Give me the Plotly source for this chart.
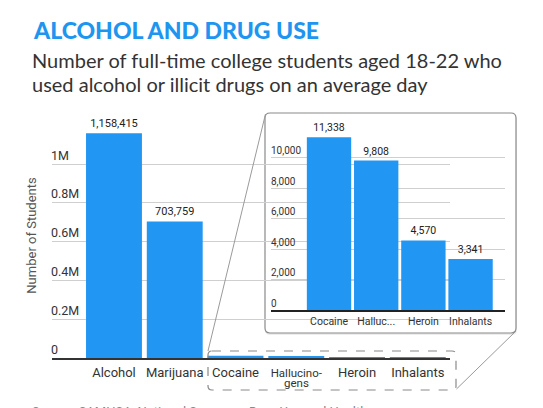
import plotly.graph_objects as go

# ── Data ──────────────────────────────────────────────────────────────────────
categories = ["Alcohol", "Marijuana", "Cocaine", "Hallucinogens", "Heroin", "Inhalants"]
students = [1158415, 703759, 11338, 9808, 4570, 3341]
main_tick_text = ["Alcohol", "Marijuana", "Cocaine",
                  "<span style='font-size:11.5px'>Hallucino-</span>", "Heroin", "Inhalants"]
main_y_ticks = [0, 200000, 400000, 600000, 800000, 1000000]
main_y_labels = ["0", "0.2M", "0.4M", "0.6M", "0.8M", "1M"]

inset_categories = categories[2:]
inset_students = students[2:]
inset_tick_text = ["Cocaine", "Halluc...", "Heroin", "Inhalants"]
inset_y_ticks = [0, 2000, 4000, 6000, 8000, 10000]

BLUE = "#2196f3"
W, H = 543, 408

# pixel -> paper
def px(x): return x / W
def py(y): return 1 - y / H

# pixel -> inset axis domain units
IX0, IX1, IY0, IY1 = 271, 505, 310, 120
def dx(x): return (x - IX0) / (IX1 - IX0)
def dy(y): return (IY0 - y) / (IY0 - IY1)

def rounded_rect(x0, y0, x1, y1, r, fx, fy):
    """Rounded rectangle path given in pixels, converted with fx / fy."""
    pts = [
        ("M", x0 + r, y0), ("L", x1 - r, y0), ("Q", x1, y0, x1, y0 + r),
        ("L", x1, y1 - r), ("Q", x1, y1, x1 - r, y1),
        ("L", x0 + r, y1), ("Q", x0, y1, x0, y1 - r),
        ("L", x0, y0 + r), ("Q", x0, y0, x0 + r, y0),
    ]
    out = []
    for p in pts:
        cmd, coords = p[0], p[1:]
        xy = []
        for i in range(0, len(coords), 2):
            xy.append(f"{fx(coords[i]):.5f},{fy(coords[i + 1]):.5f}")
        out.append(cmd + " " + " ".join(xy))
    return " ".join(out) + " Z"

# ── Figure ────────────────────────────────────────────────────────────────────
fig = go.Figure()

main_text = [f"{v:,}" if v > 100000 else "" for v in students]
fig.add_trace(go.Bar(
    x=categories, y=students, marker_color=BLUE, marker_line_width=0,
    text=main_text, textposition="outside", cliponaxis=False,
    textfont=dict(family="Roboto", size=11, color="#222"),
    xaxis="x", yaxis="y", hoverinfo="x+y",
))

fig.add_trace(go.Bar(
    x=inset_categories, y=inset_students, marker_color=BLUE, marker_line_width=0,
    text=[f"{v:,}" for v in inset_students], textposition="outside", cliponaxis=False,
    textfont=dict(family="Roboto", size=10.5, color="#222"),
    xaxis="x2", yaxis="y2", hoverinfo="x+y", width=0.94,
))

fig.update_layout(
    width=W, height=H,
    margin=dict(l=0, r=0, t=0, b=0),
    paper_bgcolor="white", plot_bgcolor="rgba(0,0,0,0)",
    showlegend=False, bargap=0.08,
    font=dict(family="Roboto", color="#333"),
    xaxis=dict(
        domain=[px(52), px(450)], range=[-1.02, 5.53],
        tickmode="array", tickvals=categories, ticktext=main_tick_text,
        tickfont=dict(size=13, color="#333"), showgrid=False,
        showline=True, linecolor="#333", linewidth=2, ticks="", ticklabelstandoff=1,
    ),
    yaxis=dict(
        domain=[py(358), py(113)], range=[0, (358 - 113) / 194 * 1e6],
        tickmode="array", tickvals=main_y_ticks, ticktext=main_y_labels,
        ticklabelposition="inside top", ticklabelstandoff=-4,
        tickfont=dict(size=12.5, color="#333"),
        gridcolor="#cfcfcf", gridwidth=1, zeroline=False,
        title=dict(text="Number of Students", font=dict(size=13, color="#555"), standoff=11),
    ),
    xaxis2=dict(
        domain=[px(IX0), px(IX1)], range=[-1.23, 3.73], anchor="y2",
        tickmode="array", tickvals=inset_categories, ticktext=inset_tick_text,
        tickfont=dict(size=10.5, color="#333"), showgrid=False,
        showline=True, linecolor="#222", linewidth=1.5, ticks="", ticklabelstandoff=1,
    ),
    yaxis2=dict(
        domain=[py(IY0), py(IY1)], range=[0, (IY0 - IY1) / 152.3 * 10000], anchor="x2",
        tickmode="array", tickvals=inset_y_ticks, tickformat=",",
        ticklabelposition="inside top", ticklabelstandoff=-3,
        tickfont=dict(size=10, color="#333"),
        gridcolor="#cfcfcf", gridwidth=1, zeroline=False,
    ),
)

shapes = [
    # inset shadow and box (drawn in the inset's own layer, under its grid)
    dict(type="path", xref="x2 domain", yref="y2 domain", layer="below",
         path=rounded_rect(265, 115, 517, 335, 5, dx, dy),
         fillcolor="rgba(0,0,0,0.07)", line=dict(width=0)),
    dict(type="path", xref="x2 domain", yref="y2 domain", layer="below",
         path=rounded_rect(265, 113, 516, 333, 5, dx, dy),
         fillcolor="white", line=dict(color="#8a8a8a", width=1.2)),
    # dashed box around the small categories
    dict(type="path", xref="paper", yref="paper", layer="above",
         path=rounded_rect(208, 351, 456, 390, 4, px, py),
         fillcolor="rgba(0,0,0,0)", line=dict(color="#8a8a8a", width=1.2, dash="dash")),
    # connectors
    dict(type="line", xref="paper", yref="paper", layer="above",
         x0=px(208), y0=py(351), x1=px(265.5), y1=py(114),
         line=dict(color="#9a9a9a", width=1)),
    dict(type="line", xref="paper", yref="paper", layer="above",
         x0=px(456.5), y0=py(389), x1=px(516), y1=py(331),
         line=dict(color="#9a9a9a", width=1)),
]
fig.update_layout(shapes=shapes)

annotations = [
    dict(text="ALCOHOL AND DRUG USE", x=px(31), y=py(30), xref="paper", yref="paper",
         xanchor="left", yanchor="middle", showarrow=False,
         font=dict(family="Lato", size=23, color="#1e96f0", weight=900)),
    dict(text="Number of full-time college students aged 18-22 who", x=px(30), y=py(60),
         xref="paper", yref="paper", xanchor="left", yanchor="middle", showarrow=False,
         font=dict(family="Lato", size=20, color="#333")),
    dict(text="used alcohol or illicit drugs on an average day", x=px(30), y=py(84),
         xref="paper", yref="paper", xanchor="left", yanchor="middle", showarrow=False,
         font=dict(family="Lato", size=20, color="#333")),
    # second line of the Hallucinogens tick label
    dict(text="gens", x="Hallucinogens", y=py(383), xref="x", yref="paper",
         xanchor="center", yanchor="middle", showarrow=False,
         font=dict(family="Roboto", size=11.5, color="#333")),
    dict(text="Source: SAMHSA, National Survey on Drug Use and Health", x=px(30), y=py(402),
         xref="paper", yref="paper", xanchor="left", yanchor="top", showarrow=False,
         font=dict(family="Roboto", size=13, color="#888")),
]
fig.update_layout(annotations=annotations)

# page margin off so the figure sits at the window's top-left corner
fig.write_html("out.html", config={"displayModeBar": False},
               post_script="document.body.style.margin = '0';")
